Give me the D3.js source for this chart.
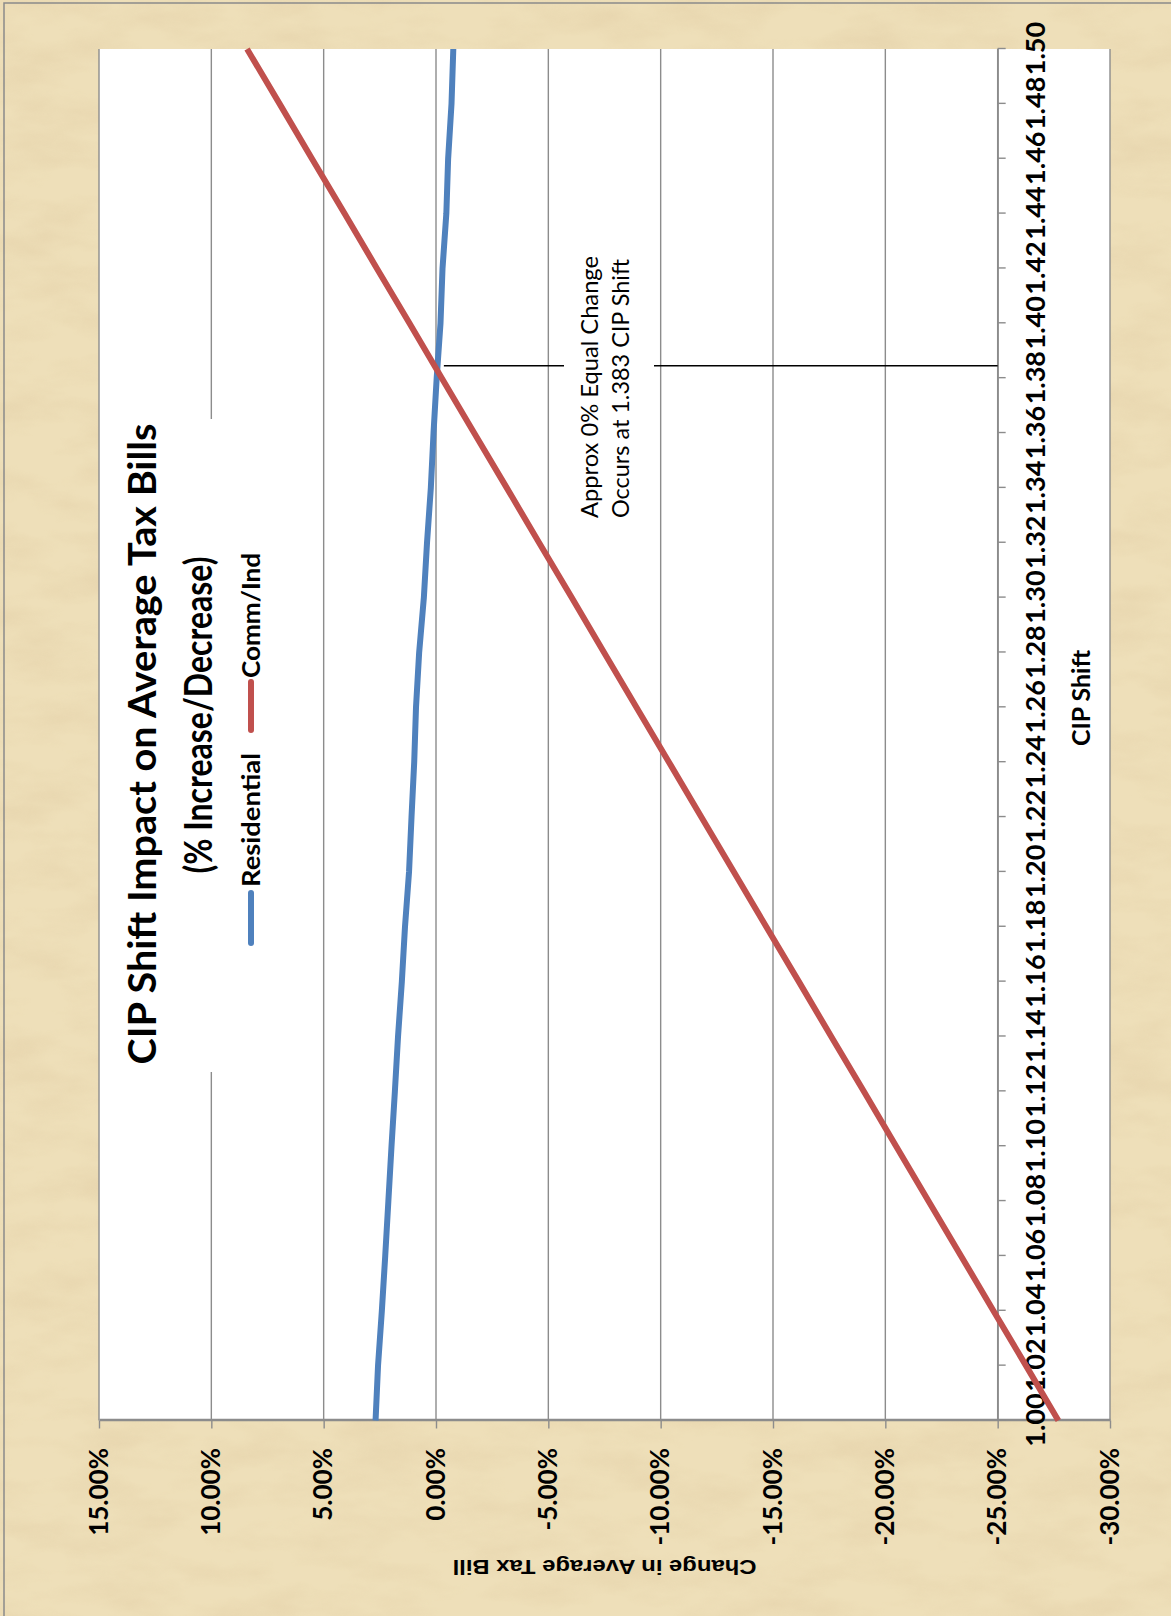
<!DOCTYPE html>
<html>
<head>
<meta charset="utf-8">
<script src="https://cdn.jsdelivr.net/npm/d3@7"></script>
<style>
  html, body { margin: 0; padding: 0; background: #EDDDB6; }
  svg { display: block; }
</style>
</head>
<body>
<svg id="chart" width="1171" height="1616"></svg>
<script>
// ---------------- DATA ----------------
const cipShift = [1.00, 1.02, 1.04, 1.06, 1.08, 1.10, 1.12, 1.14, 1.16, 1.18, 1.20, 1.22, 1.24,
                  1.26, 1.28, 1.30, 1.32, 1.34, 1.36, 1.38, 1.40, 1.42, 1.44, 1.46, 1.48, 1.50];
const residential = [2.69, 2.58, 2.41, 2.26, 2.12, 1.98, 1.83, 1.69, 1.52, 1.38, 1.20, 1.09, 0.97,
                     0.89, 0.75, 0.54, 0.40, 0.23, 0.11, -0.03, -0.20, -0.29, -0.46, -0.54, -0.69, -0.77];
const commInd = [-27.70, -26.26, -24.81, -23.37, -21.92, -20.48, -19.04, -17.59, -16.15, -14.70, -13.26, -11.81, -10.37,
                 -8.92, -7.48, -6.04, -4.59, -3.15, -1.70, -0.26, 1.18, 2.63, 4.07, 5.52, 6.96, 8.41];
const seriesNames = ["Residential", "Comm/Ind"];
const valueTicks = [15, 10, 5, 0, -5, -10, -15, -20, -25, -30];
const titleLines = ["CIP Shift Impact on Average Tax Bills", "(% Increase/Decrease)"];
const xAxisTitle = "CIP Shift";
const yAxisTitle = "Change in Average Tax Bill";
const annotationLines = ["Approx 0% Equal Change", "Occurs at 1.383 CIP Shift"];
const annotationCip = 1.3845;
const annotationRange = [-0.35, -25];
const categoryAxisCrossing = -25;

// ---------------- LAYOUT ----------------
const svg = d3.select("#chart");
const plotLeft = 99, plotRight = 1110, plotTop = 49, plotBottom = 1420.5;
const W = plotBottom - plotTop;   // length along category axis (vertical on screen)
const H = plotRight - plotLeft;   // length along value axis (horizontal on screen)
const colors = ["#4F81BD", "#C0504D"];
const gridColor = "#8C8C8C";
const sans = "Lato, 'Open Sans', 'Liberation Sans', sans-serif";

// paper texture background
const defs = svg.append("defs");
const f = defs.append("filter").attr("id", "paper").attr("x", 0).attr("y", 0).attr("width", 1).attr("height", 1);
f.append("feTurbulence").attr("type", "fractalNoise").attr("baseFrequency", "0.012 0.03")
  .attr("numOctaves", 4).attr("seed", 7).attr("result", "n");
f.append("feColorMatrix").attr("in", "n").attr("type", "matrix")
  .attr("values", "0 0 0 0 0.78  0 0 0 0 0.64  0 0 0 0 0.40  1.8 0 0 0 -0.72");
svg.append("rect").attr("width", 1171).attr("height", 1616).attr("fill", "#EEDFB9");
svg.append("rect").attr("width", 1171).attr("height", 1616).attr("filter", "url(#paper)").attr("opacity", 0.7);
// chart border (left/top visible)
svg.append("rect").attr("x", 4).attr("y", 3).attr("width", 1300).attr("height", 1800)
  .attr("fill", "none").attr("stroke", "#8A8A8A").attr("stroke-width", 1.5);

// rotated chart group: local x = category axis, local y = value axis
const g = svg.append("g").attr("transform", `translate(${plotLeft},${plotBottom}) rotate(-90)`);

const x = d3.scaleLinear().domain([cipShift[0], cipShift[cipShift.length - 1]]).range([0, W]);
const y = d3.scaleLinear().domain([valueTicks[0], valueTicks[valueTicks.length - 1]]).range([0, H]);

// plot area
g.append("rect").attr("x", 0).attr("y", 0).attr("width", W).attr("height", H).attr("fill", "#FFFFFF");

// gridlines
g.append("g").selectAll("line").data(valueTicks).join("line")
  .attr("x1", 0).attr("x2", W)
  .attr("y1", d => y(d)).attr("y2", d => y(d))
  .attr("stroke", gridColor).attr("stroke-width", 1.4);

// value axis
const yAxis = g.append("g")
  .call(d3.axisLeft(y).tickValues(valueTicks).tickFormat(d => d.toFixed(2) + "%")
    .tickSize(8).tickSizeOuter(0).tickPadding(19.5));
yAxis.select(".domain").attr("stroke", gridColor).attr("stroke-width", 2.5);
yAxis.selectAll(".tick line").attr("stroke", gridColor).attr("stroke-width", 1.4);
yAxis.selectAll("text").attr("font-family", sans).attr("font-weight", 700)
  .attr("font-size", 26).attr("fill", "#000");

// category axis (crosses at -25%)
const xAxis = g.append("g").attr("transform", `translate(0,${y(categoryAxisCrossing)})`)
  .call(d3.axisBottom(x).tickValues(cipShift).tickFormat(d3.format(".2f"))
    .tickSize(8).tickSizeOuter(0).tickPadding(20));
xAxis.select(".domain").attr("stroke", gridColor).attr("stroke-width", 1.4);
xAxis.selectAll(".tick line").attr("stroke", gridColor).attr("stroke-width", 1.4);
xAxis.selectAll("text").attr("font-family", sans).attr("font-weight", 700)
  .attr("font-size", 27).attr("fill", "#000");

// series lines
const series = [residential, commInd];
const line = d3.line().x((d, i) => x(cipShift[i])).y(d => y(d));
g.append("g").selectAll("path").data(series).join("path")
  .attr("d", d => line(d))
  .attr("fill", "none")
  .attr("stroke", (d, i) => colors[i])
  .attr("stroke-width", 6)
  .attr("stroke-linejoin", "round");

// annotation
g.append("line")
  .attr("x1", x(annotationCip)).attr("x2", x(annotationCip))
  .attr("y1", y(annotationRange[0])).attr("y2", y(annotationRange[1]))
  .attr("stroke", "#000").attr("stroke-width", 1.6);
g.append("rect").attr("x", 895).attr("y", 465).attr("width", 275).attr("height", 90).attr("fill", "#FFFFFF");
g.append("g").selectAll("text").data(annotationLines).join("text")
  .attr("x", 902.5).attr("y", (d, i) => 499 + i * 31)
  .attr("font-family", sans).attr("font-size", 24).attr("fill", "#000")
  .attr("textLength", (d, i) => [262, 259][i]).attr("lengthAdjust", "spacingAndGlyphs")
  .text(d => d);

// title (with white box over gridlines)
g.append("rect").attr("x", 348.5).attr("y", 1).attr("width", 653).attr("height", 116).attr("fill", "#FFFFFF");
g.append("g").selectAll("text").data(titleLines).join("text")
  .attr("x", (d, i) => [676.5, 705.5][i]).attr("y", (d, i) => [57, 113][i])
  .attr("text-anchor", "middle")
  .attr("font-family", sans).attr("font-weight", 700).attr("font-size", 39).attr("fill", "#000")
  .attr("textLength", (d, i) => [641, 317][i]).attr("lengthAdjust", "spacingAndGlyphs")
  .text(d => d);

// legend
const legendPos = [{l0: 477.5, l1: 527.5, t: 533.5, len: 134}, {l0: 690.5, l1: 738.5, t: 742.5, len: 125}];
const lg = g.append("g").selectAll("g").data(seriesNames).join("g");
lg.append("line")
  .attr("x1", (d, i) => legendPos[i].l0).attr("x2", (d, i) => legendPos[i].l1)
  .attr("y1", 152).attr("y2", 152)
  .attr("stroke", (d, i) => colors[i]).attr("stroke-width", 6).attr("stroke-linecap", "round");
lg.append("text")
  .attr("x", (d, i) => legendPos[i].t).attr("y", 161)
  .attr("font-family", sans).attr("font-weight", 700).attr("font-size", 25).attr("fill", "#000")
  .attr("textLength", (d, i) => legendPos[i].len).attr("lengthAdjust", "spacingAndGlyphs")
  .text(d => d);

// axis titles
g.append("text").attr("x", 722.5).attr("y", 991).attr("text-anchor", "middle")
  .attr("font-family", sans).attr("font-weight", 700).attr("font-size", 25).attr("fill", "#000")
  .attr("textLength", 96).attr("lengthAdjust", "spacingAndGlyphs")
  .text(xAxisTitle);
g.append("text").attr("transform", `translate(-139,${H / 2}) rotate(-90)`).attr("text-anchor", "middle")
  .attr("font-family", "'Liberation Sans Narrow', 'Arial Narrow', 'Liberation Sans', sans-serif")
  .attr("font-weight", 700).attr("font-size", 20).attr("fill", "#000")
  .attr("textLength", 304).attr("lengthAdjust", "spacingAndGlyphs")
  .text(yAxisTitle);
</script>
</body>
</html>
